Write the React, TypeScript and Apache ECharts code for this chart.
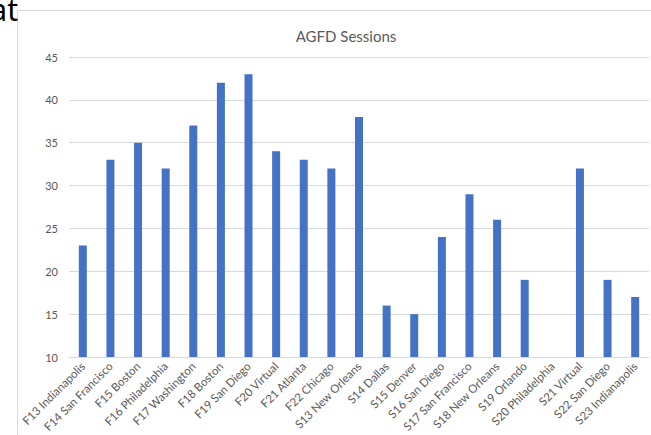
import React, { useEffect, useRef } from "react";
import * as echarts from "echarts";

const categories = [
  "F13 Indianapolis", "F14 San Francisco", "F15 Boston", "F16 Philadelphia", "F17 Washington",
  "F18 Boston", "F19 San Diego", "F20 Virtual", "F21 Atlanta", "F22 Chicago",
  "S13 New Orleans", "S14 Dallas", "S15 Denver", "S16 San Diego", "S17 San Francisco",
  "S18 New Orleans", "S19 Orlando", "S20 Philadelphia", "S21 Virtual", "S22 San Diego", "S23 Indianapolis",
];
const sessions = [23, 33, 35, 32, 37, 42, 43, 34, 33, 32, 38, 16, 15, 24, 29, 26, 19, 10, 32, 19, 17];
const yMin = 10;
const yMax = 45;
const yStep = 5;

export default function App() {
  const ref = useRef<HTMLDivElement>(null);
  useEffect(() => {
    document.body.style.margin = "0";
    const chart = echarts.init(ref.current!, null, { renderer: "svg" });
    chart.setOption({
      animation: false,
      backgroundColor: "#ffffff",
      title: {
        text: "AGFD Sessions",
        left: 341,
        top: 23,
        textAlign: "center",
        textStyle: { color: "#595959", fontSize: 15, fontWeight: "normal", fontFamily: "Lato" },
      },
      graphic: [
        {
          type: "rect",
          shape: { x: 17.5, y: 10.5, width: 700, height: 500 },
          style: { fill: "none", stroke: "#d9d9d9", lineWidth: 1 },
          z: -1,
        },
        {
          type: "text",
          x: 18,
          y: -6,
          style: {
            text: "at",
            fill: "#000000",
            font: "30px 'Noto Sans'",
            textAlign: "right",
            textVerticalAlign: "top",
          },
        },
      ],
      grid: { left: 69, right: 2, top: 57, bottom: 78, containLabel: false },
      xAxis: {
        type: "category",
        data: categories,
        axisLine: { show: true, lineStyle: { color: "#d9d9d9" } },
        axisTick: { show: false },
        axisLabel: {
          rotate: 45,
          interval: 0,
          color: "#595959",
          fontSize: 11.5,
          fontFamily: "Lato",
          margin: 7,
        },
      },
      yAxis: {
        type: "value",
        min: yMin,
        max: yMax,
        interval: yStep,
        axisLine: { show: false },
        axisTick: { show: false },
        splitLine: { lineStyle: { color: "#d9d9d9" } },
        axisLabel: { color: "#595959", fontSize: 11, fontFamily: "Lato", margin: 11 },
      },
      series: [
        {
          type: "bar",
          data: sessions,
          barWidth: 8,
          itemStyle: { color: "#4472C4" },
        },
      ],
    });
    return () => chart.dispose();
  }, []);
  return <div ref={ref} style={{ width: 651, height: 435 }} />;
}
